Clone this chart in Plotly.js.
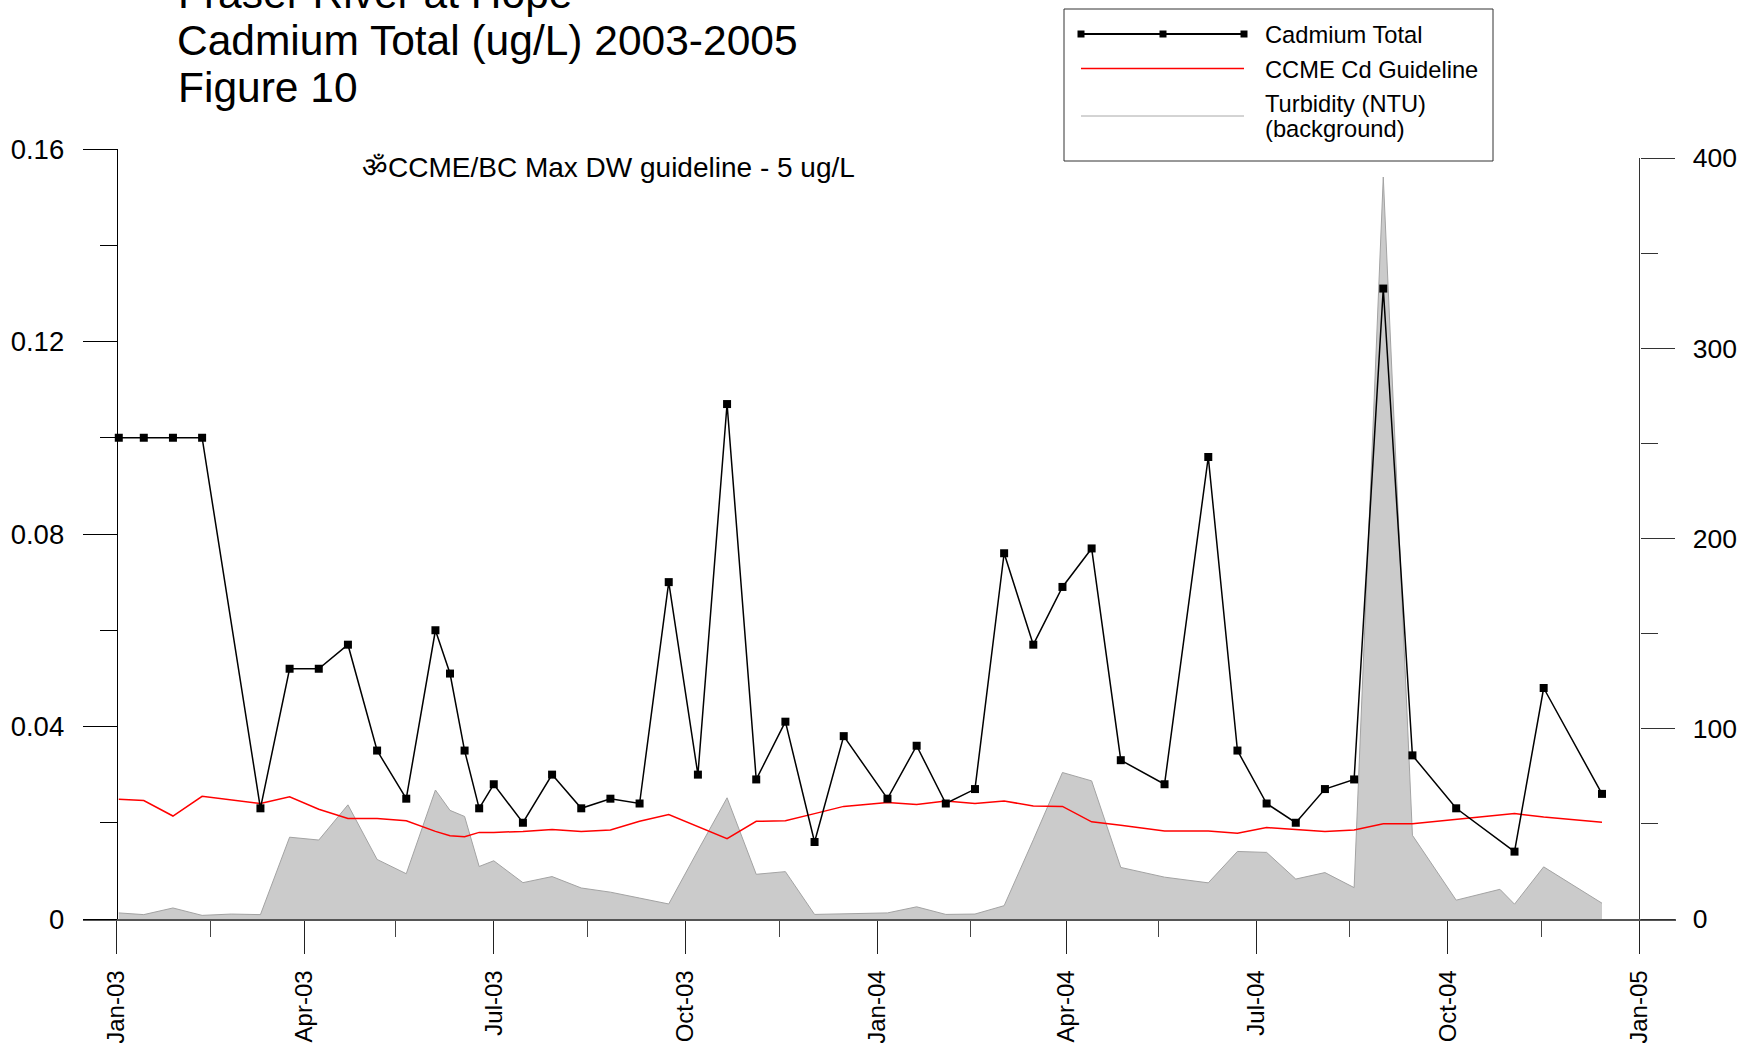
<!DOCTYPE html>
<html>
<head>
<meta charset="utf-8">
<script src="https://cdn.plot.ly/plotly-3.0.1.min.js"></script>
<style>
html,body{margin:0;padding:0;background:#ffffff;}
#chart{width:1743px;height:1043px;}
</style>
</head>
<body>
<div id="chart"></div>
<script>
// ---------------- data ----------------
const cdDates = ['2003-01-02','2003-01-14','2003-01-28','2003-02-11','2003-03-11','2003-03-25','2003-04-08','2003-04-22','2003-05-06','2003-05-20','2003-06-03','2003-06-10','2003-06-17','2003-06-24','2003-07-01','2003-07-15','2003-07-29','2003-08-12','2003-08-26','2003-09-09','2003-09-23','2003-10-07','2003-10-21','2003-11-04','2003-11-18','2003-12-02','2003-12-16','2004-01-06','2004-01-20','2004-02-03','2004-02-17','2004-03-02','2004-03-16','2004-03-30','2004-04-13','2004-04-27','2004-05-18','2004-06-08','2004-06-22','2004-07-06','2004-07-20','2004-08-03','2004-08-17','2004-08-31','2004-09-14','2004-10-05','2004-11-02','2004-11-16','2004-12-14'];

const cdValues = [0.100,0.100,0.100,0.100,0.023,0.052,0.052,0.057,0.035,0.025,0.060,0.051,0.035,0.023,0.028,0.020,0.030,0.023,0.025,0.024,0.070,0.030,0.107,0.029,0.041,0.016,0.038,0.025,0.036,0.024,0.027,0.076,0.057,0.069,0.077,0.033,0.028,0.096,0.035,0.024,0.020,0.027,0.029,0.131,0.034,0.023,0.014,0.048,0.026];

const guidelineValues = [0.0249,0.0246,0.0214,0.0255,0.0240,0.0254,0.0228,0.0209,0.0209,0.0204,0.0182,0.0173,0.0171,0.0180,0.0180,0.0182,0.0186,0.0182,0.0185,0.0203,0.0217,0.0192,0.0167,0.0203,0.0204,0.0219,0.0234,0.0242,0.0238,0.0245,0.0240,0.0245,0.0235,0.0234,0.0202,0.0195,0.0183,0.0183,0.0178,0.0190,0.0186,0.0182,0.0185,0.0198,0.0198,0.0207,0.0219,0.0212,0.0201];

const turbDates = ['2003-01-02','2003-01-14','2003-01-28','2003-02-11','2003-02-25','2003-03-11','2003-03-25','2003-04-08','2003-04-22','2003-05-06','2003-05-20','2003-06-03','2003-06-10','2003-06-17','2003-06-24','2003-07-01','2003-07-15','2003-07-29','2003-08-12','2003-08-26','2003-09-09','2003-09-23','2003-10-07','2003-10-21','2003-11-04','2003-11-18','2003-12-02','2003-12-16','2004-01-06','2004-01-20','2004-02-03','2004-02-17','2004-03-02','2004-03-16','2004-03-30','2004-04-13','2004-04-27','2004-05-18','2004-06-08','2004-06-22','2004-07-06','2004-07-20','2004-08-03','2004-08-17','2004-08-31','2004-09-14','2004-10-05','2004-10-26','2004-11-02','2004-11-16','2004-12-14'];

const turbValues = [3.2,2.3,5.8,1.9,2.6,2.3,43,41.5,60,31.3,23.8,67.8,57.1,53.9,27.6,30.6,19.1,22.3,16.3,14.1,11,7.9,36,63.7,23.5,24.9,2.4,2.6,3.2,6.4,2.4,2.6,7.0,41.6,77.0,72.6,27.1,22,19,35.5,35,21,24.4,16.5,390,44,9.9,15.6,7.8,27.4,8.3];

const seriesNames = ['Cadmium Total','CCME Cd Guideline','Turbidity (NTU)','(background)'];
const titleLines = ['Fraser River at Hope','Cadmium Total (ug/L) 2003-2005','Figure 10'];
const noteText = '\u0950CCME/BC Max DW guideline - 5 ug/L';
const xTickFormat = '%b-%y';
const cdTickStep = 0.04, cdMinorStep = 0.02, cdMax = 0.16;
const ntuTickStep = 100, ntuMinorStep = 50, ntuTopTick = 400;

// ---------------- geometry ----------------
const W = 1743, H = 1043;
const ML = 83, MR = 67, MT = 149, MB = 124;
const PW = W - ML - MR, PH = H - MT - MB;
const PX_JAN03 = 116.7, PX_JAN05 = 1639.5;
const t03 = Date.UTC(2003, 0, 1), t05 = Date.UTC(2005, 0, 1);
const msPerPx = (t05 - t03) / (PX_JAN05 - PX_JAN03);
const xStart = t03 - (PX_JAN03 - ML) * msPerPx;
const xEnd = t05 + (W - MR - PX_JAN05) * msPerPx;
function iso(ms){ return new Date(ms).toISOString().replace('T',' ').replace('Z',''); }
const posLeft = (PX_JAN03 - ML) / PW;
const posRight = (PX_JAN05 - ML) / PW;
const ntuRangeTop = ntuTopTick * PH / (919 - 158);
function X(px){ return (px - ML) / PW; }
function Y(py){ return 1 - (py - MT) / PH; }

const FONT = 'Liberation Sans, Arial, Helvetica, sans-serif';
const TITLE_SIZE = 42.5;

// ---------------- traces ----------------
const turbTrace = {
  x: turbDates, y: turbValues, yaxis: 'y', xaxis: 'x',
  type: 'scatter', mode: 'lines', fill: 'tozeroy',
  fillcolor: '#cbcbcb', line: {color: '#a3a3a3', width: 1},
  name: seriesNames[2] + ' ' + seriesNames[3], showlegend: false
};
const guideTrace = {
  x: cdDates, y: guidelineValues, yaxis: 'y2', xaxis: 'x',
  type: 'scatter', mode: 'lines', line: {color: '#ff0000', width: 1.5},
  name: seriesNames[1], showlegend: false
};
const cdTrace = {
  x: cdDates, y: cdValues, yaxis: 'y2', xaxis: 'x',
  type: 'scatter', mode: 'lines+markers',
  line: {color: '#000000', width: 1.5},
  marker: {symbol: 'square', size: 8, color: '#000000'},
  name: seriesNames[0], showlegend: false
};

// ---------------- legend (drawn box) ----------------
const legendShapes = [
  {type:'rect', xref:'paper', yref:'paper', x0:X(1064), x1:X(1493), y0:Y(161), y1:Y(9),
   line:{color:'#333333', width:1}, fillcolor:'#ffffff', layer:'above'},
  {type:'line', xref:'paper', yref:'paper', x0:X(1081), x1:X(1244), y0:Y(34), y1:Y(34),
   line:{color:'#000000', width:2}},
  {type:'line', xref:'paper', yref:'paper', x0:X(1081), x1:X(1244), y0:Y(68.5), y1:Y(68.5),
   line:{color:'#ff0000', width:1.5}},
  {type:'line', xref:'paper', yref:'paper', x0:X(1081), x1:X(1244), y0:Y(116), y1:Y(116),
   line:{color:'#a8a8a8', width:1}}
];
[1081, 1163, 1244].forEach(function(px){
  legendShapes.push({type:'rect', xref:'paper', yref:'paper',
    x0:X(px-3.5), x1:X(px+3.5), y0:Y(37.5), y1:Y(30.5),
    fillcolor:'#000000', line:{width:0}});
});

const legendTexts = [
  {text: seriesNames[0], py: 35.5},
  {text: seriesNames[1], py: 70},
  {text: seriesNames[2], py: 104},
  {text: seriesNames[3], py: 129.5}
].map(function(o){
  return {text:o.text, xref:'paper', yref:'paper', x:X(1263), y:Y(o.py),
          xanchor:'left', yanchor:'middle', showarrow:false,
          font:{family:FONT, size:23.7, color:'#000000'}};
});

// ---------------- layout ----------------
const layout = {
  width: W, height: H,
  margin: {l: ML, r: MR, t: MT, b: MB, pad: 0},
  paper_bgcolor: '#ffffff', plot_bgcolor: '#ffffff',
  showlegend: false,
  font: {family: FONT, color: '#000000'},
  title: {
    text: titleLines[1],
    font: {family: FONT, size: TITLE_SIZE, color: '#000000'},
    xref: 'container', yref: 'container',
    x: 177 / W, xanchor: 'left',
    y: 1 - 25.5 / H, yanchor: 'top'
  },
  xaxis: {
    type: 'date', range: [iso(xStart), iso(xEnd)],
    tickmode: 'linear', tick0: '2003-01-01', dtick: 'M3',
    tickformat: xTickFormat, tickangle: -90,
    ticks: 'outside', ticklen: 33, tickwidth: 1, tickcolor: '#222222',
    showline: true, linecolor: '#555555', linewidth: 1.5,
    showgrid: false, zeroline: false,
    tickfont: {family: FONT, size: 24, color: '#000000'},
    ticklabelstandoff: 7,
    minor: {ticks: 'outside', ticklen: 16, tickwidth: 1, tickcolor: '#444444',
            tick0: '2003-02-15', dtick: 'M3', showgrid: false},
    anchor: 'y'
  },
  yaxis: {
    range: [0, ntuRangeTop], side: 'right', anchor: 'free', position: posRight,
    tickmode: 'linear', tick0: 0, dtick: ntuTickStep,
    ticks: 'outside', ticklen: 34, tickwidth: 1, tickcolor: '#333333',
    showline: false, showgrid: false, zeroline: false,
    tickfont: {family: FONT, size: 26.5, color: '#000000'},
    ticklabelstandoff: 13,
    minor: {ticks: 'outside', ticklen: 17, tickwidth: 1, tickcolor: '#333333',
            tick0: 0, dtick: ntuMinorStep, showgrid: false}
  },
  yaxis2: {
    overlaying: 'y', side: 'left', anchor: 'free', position: posLeft,
    range: [0, cdMax], tickmode: 'linear', tick0: 0, dtick: cdTickStep,
    ticks: 'outside', ticklen: 34, tickwidth: 1, tickcolor: '#000000',
    showline: true, linecolor: '#000000', linewidth: 1,
    showgrid: false, zeroline: false,
    tickfont: {family: FONT, size: 27.5, color: '#000000'},
    ticklabelstandoff: 13,
    minor: {ticks: 'outside', ticklen: 17, tickwidth: 1, tickcolor: '#000000',
            tick0: 0, dtick: cdMinorStep, showgrid: false}
  },
  shapes: [
    {type:'line', xref:'x', yref:'y', x0:'2005-01-01', x1:'2005-01-01', y0:0, y1:ntuTopTick,
     line:{color:'#333333', width:1}}
  ].concat(legendShapes),
  annotations: [
    {text: titleLines[0], xref:'paper', yref:'paper', x:X(176), y:Y(-6.4),
     xanchor:'left', yanchor:'middle', showarrow:false,
     font:{family:FONT, size:TITLE_SIZE, color:'#000000'}},
    {text: titleLines[2], xref:'paper', yref:'paper', x:X(176), y:Y(87),
     xanchor:'left', yanchor:'middle', showarrow:false,
     font:{family:FONT, size:TITLE_SIZE, color:'#000000'}},
    {text: noteText, xref:'paper', yref:'paper', x:X(360), y:Y(167),
     xanchor:'left', yanchor:'middle', showarrow:false,
     font:{family:FONT, size:28, color:'#000000'}}
  ].concat(legendTexts)
};

Plotly.newPlot('chart', [turbTrace, guideTrace, cdTrace], layout, {displayModeBar: false, responsive: false});
</script>
</body>
</html>
